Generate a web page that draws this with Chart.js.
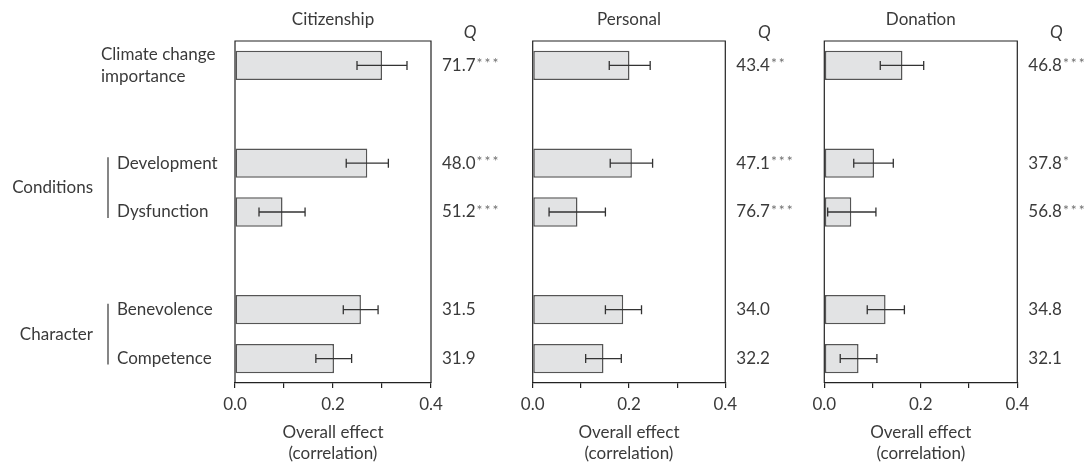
<!DOCTYPE html>
<html>
<head>
<meta charset="utf-8">
<script src="https://cdn.jsdelivr.net/npm/chart.js@4.4.1/dist/chart.umd.min.js"></script>
<style>
  html, body { margin: 0; padding: 0; background: #fff; }
  .panel { position: absolute; top: 0; height: 462px; }
</style>
</head>
<body>
<div class="panel" style="left:0;width:500px"><canvas id="citizenship"></canvas></div>
<div class="panel" style="left:500px;width:300px"><canvas id="personal"></canvas></div>
<div class="panel" style="left:800px;width:286px"><canvas id="donation"></canvas></div>
<script>
// rows (blank rows are the gaps between groups)
const categories = ['Climate change importance', '', 'Development', 'Dysfunction', '', 'Benevolence', 'Competence'];
const xTickLabels = ['0.0', '', '0.2', '', '0.4'];

const citizenship = [0.300, null, 0.270, 0.097, null, 0.257, 0.202];
const citizenshipLow = [0.249, null, 0.227, 0.049, null, 0.221, 0.165];
const citizenshipHigh = [0.351, null, 0.313, 0.143, null, 0.292, 0.238];
const citizenshipQ = ['71.7', '', '48.0', '51.2', '', '31.5', '31.9'];
const citizenshipSig = ['***', '', '***', '***', '', '', ''];

const personal = [0.201, null, 0.206, 0.093, null, 0.188, 0.147];
const personalLow = [0.159, null, 0.161, 0.034, null, 0.151, 0.110];
const personalHigh = [0.244, null, 0.249, 0.151, null, 0.226, 0.184];
const personalQ = ['43.4', '', '47.1', '76.7', '', '34.0', '32.2'];
const personalSig = ['**', '', '***', '***', '', '', ''];

const donation = [0.162, null, 0.103, 0.056, null, 0.127, 0.071];
const donationLow = [0.116, null, 0.061, 0.007, null, 0.089, 0.033];
const donationHigh = [0.206, null, 0.143, 0.107, null, 0.166, 0.109];
const donationQ = ['46.8', '', '37.8', '56.8', '', '34.8', '32.1'];
const donationSig = ['***', '', '*', '***', '', '', ''];

const groups = [
    { name: 'Conditions', rows: [2, 3] },
    { name: 'Character', rows: [5, 6] }
];

const FONT = 'Lato, "Open Sans", sans-serif';
const TEXT = '#3a3a3a';
const F = '17px ' + FONT;

// frame, error bars, title, Q column (and row labels on the first panel)
function panelDecor(title, low, high, q, sig, withLabels) {
    return {
        id: 'decor',
        afterDatasetsDraw(chart) {
            const { ctx, chartArea: a, scales: { x, y } } = chart;
            ctx.save();
            ctx.strokeStyle = '#222';
            ctx.lineWidth = 1.2;
            ctx.beginPath();
            ctx.moveTo(a.left, a.bottom);
            ctx.lineTo(a.left, a.top);
            ctx.lineTo(a.right, a.top);
            ctx.lineTo(a.right, a.bottom);
            ctx.stroke();

            ctx.strokeStyle = '#333';
            ctx.lineWidth = 1.3;
            low.forEach((lo, i) => {
                if (lo == null) return;
                const yy = y.getPixelForValue(i);
                const x1 = x.getPixelForValue(lo);
                const x2 = x.getPixelForValue(high[i]);
                ctx.beginPath();
                ctx.moveTo(x1, yy); ctx.lineTo(x2, yy);
                ctx.moveTo(x1, yy - 4.5); ctx.lineTo(x1, yy + 4.5);
                ctx.moveTo(x2, yy - 4.5); ctx.lineTo(x2, yy + 4.5);
                ctx.stroke();
            });

            ctx.fillStyle = TEXT;
            ctx.textBaseline = 'middle';
            ctx.textAlign = 'center';
            ctx.font = F;
            ctx.fillText(title, (a.left + a.right) / 2, 20);
            ctx.font = 'italic 17px ' + FONT;
            ctx.fillText('Q', a.right + 39, 33);

            ctx.textAlign = 'left';
            q.forEach((v, i) => {
                if (!v) return;
                const yy = y.getPixelForValue(i);
                ctx.font = F;
                ctx.fillStyle = TEXT;
                ctx.fillText(v, a.right + 11, yy);
                if (sig[i]) {
                    const w = ctx.measureText(v).width;
                    ctx.font = '14px ' + FONT;
                    ctx.fillStyle = '#707070';
                    ctx.letterSpacing = '2px';
                    ctx.fillText(sig[i], a.right + 12 + w, yy - 2);
                    ctx.letterSpacing = '0px';
                }
            });

            if (withLabels) {
                ctx.fillStyle = TEXT;
                ctx.font = F;
                categories.forEach((c, i) => {
                    if (!c) return;
                    const yy = y.getPixelForValue(i);
                    if (i === 0) {
                        ctx.fillText('Climate change', 101, yy - 11);
                        ctx.fillText('importance', 101, yy + 11);
                    } else {
                        ctx.fillText(c, 117, yy);
                    }
                });
                ctx.textAlign = 'right';
                ctx.strokeStyle = '#444';
                ctx.lineWidth = 1.3;
                groups.forEach(g => {
                    const y1 = y.getPixelForValue(g.rows[0]);
                    const y2 = y.getPixelForValue(g.rows[1]);
                    ctx.fillText(g.name, 93, (y1 + y2) / 2);
                    ctx.beginPath();
                    ctx.moveTo(108, y1 - 6);
                    ctx.lineTo(108, y2 + 6);
                    ctx.stroke();
                });
            }
            ctx.restore();
        }
    };
}

function makePanel(id, title, values, low, high, q, sig, pad, withLabels) {
    return new Chart(document.getElementById(id), {
        type: 'bar',
        data: {
            labels: categories,
            datasets: [{
                data: values,
                backgroundColor: '#e2e3e4',
                borderColor: '#555',
                borderWidth: 1.5,
                borderSkipped: false,
                categoryPercentage: 1,
                barPercentage: 0.6
            }]
        },
        options: {
            indexAxis: 'y',
            responsive: true,
            maintainAspectRatio: false,
            animation: false,
            layout: { padding: { left: pad[0], right: pad[1], top: 41, bottom: 0 } },
            plugins: { legend: { display: false }, tooltip: { enabled: false }, title: { display: false } },
            scales: {
                y: { display: false },
                x: {
                    min: 0,
                    max: 0.4,
                    afterFit(s) { s.height = 79; },
                    border: { display: true, color: '#222', width: 1.2 },
                    grid: { display: true, drawOnChartArea: false, tickLength: 5, color: '#222', lineWidth: 1.2 },
                    ticks: {
                        stepSize: 0.1,
                        autoSkip: false,
                        maxRotation: 0,
                        padding: 6,
                        color: TEXT,
                        font: { family: FONT, size: 17 },
                        callback: (v, i) => xTickLabels[i]
                    },
                    title: {
                        display: true,
                        text: ['Overall effect', '(correlation)'],
                        color: TEXT,
                        font: { family: FONT, size: 17, lineHeight: 1.25 },
                        padding: { top: 4, bottom: -2 }
                    }
                }
            }
        },
        plugins: [panelDecor(title, low, high, q, sig, withLabels)]
    });
}

makePanel('citizenship', 'Citizenship', citizenship, citizenshipLow, citizenshipHigh,
    citizenshipQ, citizenshipSig, [235, 69], true);
makePanel('personal', 'Personal', personal, personalLow, personalHigh,
    personalQ, personalSig, [32.7, 74.7], false);
makePanel('donation', 'Donation', donation, donationLow, donationHigh,
    donationQ, donationSig, [24.3, 68.7], false);
</script>
</body>
</html>
